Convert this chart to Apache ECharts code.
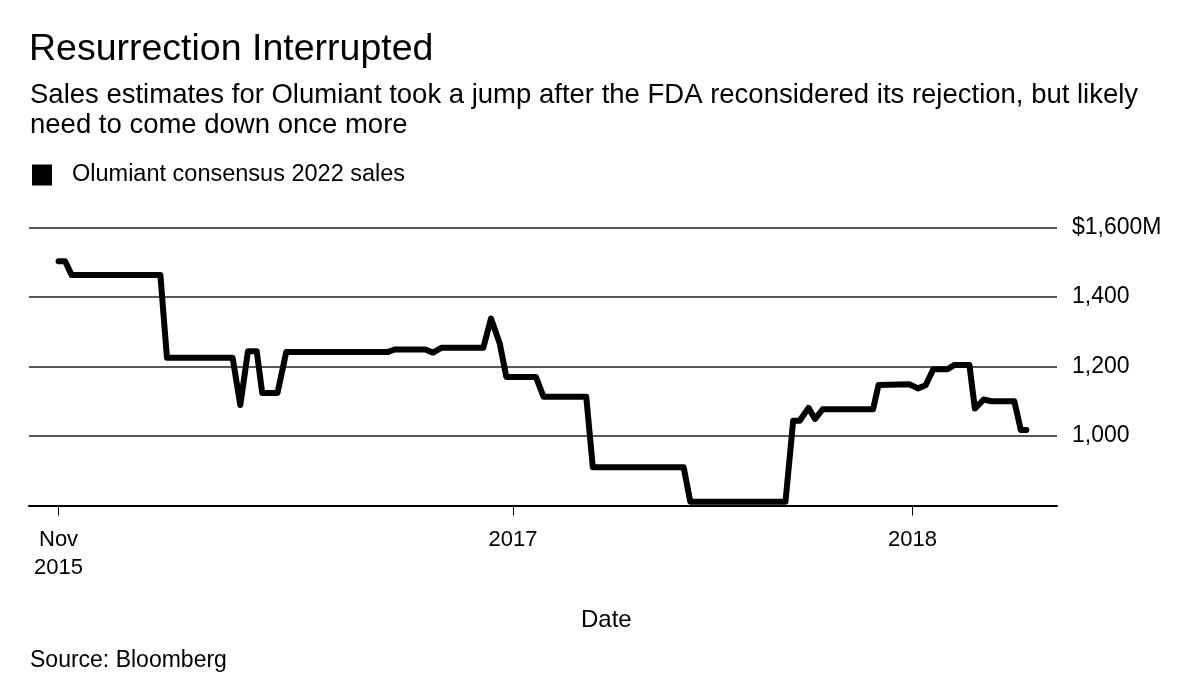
<!DOCTYPE html>
<html>
<head>
<meta charset="utf-8">
<script src="https://cdn.jsdelivr.net/npm/echarts@6/dist/echarts.min.js"></script>
<style>
html,body{margin:0;padding:0;background:#fff;}
#chart{width:1200px;height:687px;}
</style>
</head>
<body>
<div id="chart"></div>
<script>
// Data
const dates = [
  '2015-11-13','2015-11-19','2015-11-25','2016-02-14','2016-02-20','2016-04-20','2016-04-27',
  '2016-05-04','2016-05-12','2016-05-17','2016-05-31','2016-06-08','2016-09-09','2016-09-15',
  '2016-10-13','2016-10-20','2016-10-28','2016-12-05','2016-12-12','2016-12-20','2016-12-26',
  '2017-01-22','2017-01-29','2017-03-09','2017-03-15','2017-06-06','2017-06-12','2017-09-07',
  '2017-09-14','2017-09-20','2017-09-28','2017-10-04','2017-10-11','2017-11-26','2017-12-01',
  '2017-12-29','2018-01-06','2018-01-13','2018-01-20','2018-02-02','2018-02-08','2018-02-22',
  '2018-02-27','2018-03-07','2018-03-14','2018-04-04','2018-04-10','2018-04-15'
];
const sales = [
  1503,1503,1463,1463,1225,1225,1089,
  1244,1244,1124,1124,1242,1242,1249,
  1249,1240,1254,1254,1338,1266,1170,
  1170,1113,1113,910,910,811,811,
  1044,1044,1081,1049,1077,1077,1147,
  1149,1137,1146,1192,1192,1204,1204,
  1079,1105,1100,1100,1017,1017
];
const xTickDates = ['2015-11-13','2017-01-01','2018-01-01'];
const xTickLabels = ['Nov\n2015','2017','2018'];
const yTicks = [800,1000,1200,1400,1600];
const yTickLabels = ['','1,000','1,200','1,400','$1,600M'];
const seriesName = 'Olumiant consensus 2022 sales';

const FONT = 'Liberation Sans';
const ts = s => { const p = s.split('-').map(Number); return Date.UTC(p[0], p[1]-1, p[2]); };
const xTickVals = xTickDates.map(ts);
const seriesData = dates.map((d,i) => [ts(d), sales[i]]);

const chart = echarts.init(document.getElementById('chart'), null, {renderer:'canvas'});
chart.setOption({
  animation:false,
  backgroundColor:'#fff',
  textStyle:{fontFamily:FONT},
  title:[
    {text:'Resurrection Interrupted', left:24, top:26, textStyle:{fontFamily:FONT, fontSize:37.5, fontWeight:'normal', color:'#000'}},
    {text:'Sales estimates for Olumiant took a jump after the FDA reconsidered its rejection, but likely\nneed to come down once more',
     left:25, top:75, textStyle:{fontFamily:FONT, fontSize:27.5, fontWeight:'normal', color:'#000', lineHeight:30}},
    {text:'Date', left:576, top:603, textStyle:{fontFamily:FONT, fontSize:24, fontWeight:'normal', color:'#000'}},
    {text:'Source: Bloomberg', left:25, top:644, textStyle:{fontFamily:FONT, fontSize:23, fontWeight:'normal', color:'#000'}}
  ],
  legend:{
    left:27, top:158, icon:'rect', itemWidth:20, itemHeight:21, itemGap:10,
    textStyle:{fontFamily:FONT, fontSize:23.5, color:'#000', padding:[0,0,0,15]},
    data:[{name:seriesName, itemStyle:{color:'#000'}}]
  },
  grid:{left:29, right:143, top:227.5, bottom:181.5, containLabel:false},
  xAxis:{
    type:'value',
    min:ts('2015-10-17'), max:ts('2018-05-13'),
    axisLine:{show:true, lineStyle:{color:'#000', width:2}},
    axisTick:{show:true, customValues:xTickVals, length:10, lineStyle:{color:'#000', width:1}},
    axisLabel:{
      show:true, customValues:xTickVals, margin:20,
      fontFamily:FONT, fontSize:22, color:'#000', lineHeight:28,
      formatter:(v)=>{ const i = xTickVals.indexOf(v); return i>=0 ? xTickLabels[i] : ''; }
    },
    splitLine:{show:false}
  },
  yAxis:{
    type:'value', position:'right', min:800, max:1600, interval:200,
    axisLine:{show:false}, axisTick:{show:false},
    axisLabel:{
      margin:15, fontFamily:FONT, fontSize:23, color:'#000',
      formatter:(v)=>{ const i = yTicks.indexOf(v); return i>=0 ? yTickLabels[i] : ''; }
    },
    splitLine:{show:true, lineStyle:{color:'#222', width:1.5}}
  },
  series:[{
    name:seriesName, type:'line', data:seriesData, showSymbol:false, symbol:'none',
    itemStyle:{color:'#000'},
    lineStyle:{color:'#000', width:6, cap:'round', join:'round'}
  }]
});
</script>
</body>
</html>
